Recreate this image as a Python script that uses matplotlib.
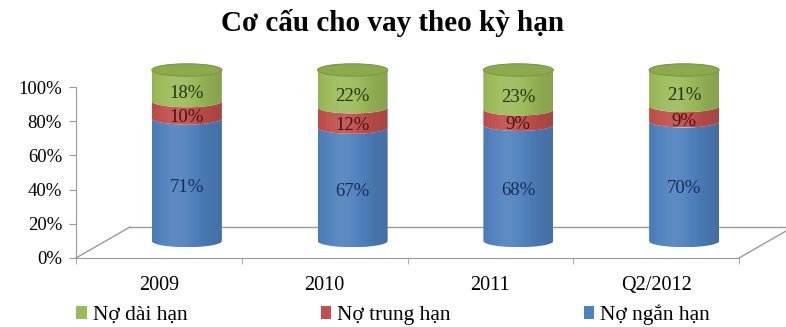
import numpy as np
import matplotlib
matplotlib.use("Agg")
import matplotlib.pyplot as plt
from matplotlib.path import Path
from matplotlib.patches import PathPatch, Ellipse, Patch

plt.rcParams['font.family'] = ['Liberation Serif', 'DejaVu Serif']

# dữ liệu
categories = ['2009', '2010', '2011', 'Q2/2012']
series_names = ['Nợ ngắn hạn', 'Nợ trung hạn', 'Nợ dài hạn']
ngan_han = [71, 67, 68, 70]
trung_han = [10, 12, 9, 9]
dai_han = [18, 22, 23, 21]
colors = ['#4F81BD', '#C0504D', '#9BBB59']
text_colors = ['#1c2c55', '#4a1212', '#25330f']
yticks = [0, 20, 40, 60, 80, 100]

W, H = 786, 327
px_x = (739 - 76) / 4.0   # pixel cho 1 đơn vị x
px_y = 171 / 100.0        # pixel cho 1%
ytop = 120

fig = plt.figure(figsize=(W / 100, H / 100), dpi=100)
ax = fig.add_axes([76 / W, (H - 258) / H, (739 - 76) / W, ytop * px_y / H])

# độ sâu 3D
floor_dx, floor_dy = 54 / px_x, 31 / px_y
cyl_dx, cyl_dy = 28 / px_x, 17 / px_y
rx = 35 / px_x
ry = 6.2 / px_y


def shade(base, n=120):
    base = np.array(matplotlib.colors.to_rgb(base))
    u = np.linspace(0, 1, n)
    f = 0.86 + 0.22 * np.exp(-((u - 0.35) / 0.38) ** 2)
    out = []
    for k in f:
        if k <= 1:
            out.append(base * k)
        else:
            out.append(base + (1 - base) * (k - 1))
    return np.clip(np.array(out), 0, 1)[None, :, :]


def seg_path(cx, y0, y1):
    t = np.linspace(np.pi, 2 * np.pi, 60)
    top = np.column_stack([cx + rx * np.cos(t), y1 + ry * np.sin(t)])
    bot = np.column_stack([cx + rx * np.cos(t[::-1]), y0 + ry * np.sin(t[::-1])])
    verts = np.vstack([top, bot, top[:1]])
    codes = [Path.MOVETO] + [Path.LINETO] * (len(verts) - 2) + [Path.CLOSEPOLY]
    return Path(verts, codes)


# sàn 3D
gray = '#9a9a9a'
ax.plot([-0.5, -0.5 + floor_dx], [0, floor_dy], color=gray, lw=1, clip_on=False, zorder=1)
ax.plot([-0.5 + floor_dx, 3.5 + floor_dx], [floor_dy, floor_dy], color=gray, lw=1, clip_on=False, zorder=1)
ax.plot([3.5, 3.5 + floor_dx], [0, floor_dy], color=gray, lw=1, clip_on=False, zorder=1)

data = np.array([ngan_han, trung_han, dai_han], dtype=float)
totals = data.sum(axis=0)

for i in range(len(categories)):
    cx = i + cyl_dx
    vals = data[:, i] / totals[i] * 100
    bottom = 0.0
    for s in range(3):
        y0 = cyl_dy + bottom
        y1 = cyl_dy + bottom + vals[s]
        patch = PathPatch(seg_path(cx, y0, y1), facecolor='none', edgecolor='none')
        ax.add_patch(patch)
        im = ax.imshow(shade(colors[s]), extent=[cx - rx, cx + rx, y0 - ry, y1 + ry],
                       aspect='auto', zorder=2, interpolation='bilinear')
        im.set_clip_path(patch)
        raw = [ngan_han, trung_han, dai_han][s][i]
        ax.text(cx, bottom + vals[s] / 2 + 5.5, f'{raw}%', ha='center', va='center',
                fontsize=13.5, color=text_colors[s], zorder=5)
        bottom += vals[s]
    top = Ellipse((cx, cyl_dy + 100), 2 * rx, 2 * ry, facecolor='#8AAA4C',
                  edgecolor='#7a9742', lw=0.8, zorder=3)
    ax.add_patch(top)

ax.set_xlim(-0.5, 3.5)
ax.set_ylim(0, ytop)

for sp in ['top', 'right']:
    ax.spines[sp].set_visible(False)
ax.spines['left'].set_color(gray)
ax.spines['left'].set_bounds(0, 100)
ax.spines['bottom'].set_color(gray)
ax.spines['left'].set_zorder(1)

ax.set_yticks(yticks)
ax.set_yticklabels([f'{v}%' for v in yticks])
ax.set_xticks(range(len(categories)))
ax.set_xticklabels(categories)
ax.set_xticks(np.arange(-0.5, 4.0, 1.0), minor=True)
ax.tick_params(axis='x', which='major', length=0, pad=13, labelsize=14.5)
ax.tick_params(axis='x', which='minor', length=4, color=gray)
ax.tick_params(axis='y', length=5, color=gray, labelsize=13.5, pad=5)

fig.text(0.5, 1 - 23 / H, 'Cơ cấu cho vay theo kỳ hạn', ha='center', va='center',
         fontsize=21, fontweight='bold')

handles = [Patch(facecolor=colors[2]), Patch(facecolor=colors[1]), Patch(facecolor=colors[0])]
labels = [series_names[2], series_names[1], series_names[0]]
fig.legend(handles, labels, loc='center', bbox_to_anchor=(0.5, 1 - 315 / H), ncol=3,
           frameon=False, fontsize=15.5, handlelength=0.5, handleheight=0.5,
           handletextpad=0.25, columnspacing=6.2)

fig.savefig('out.png', dpi=100)
